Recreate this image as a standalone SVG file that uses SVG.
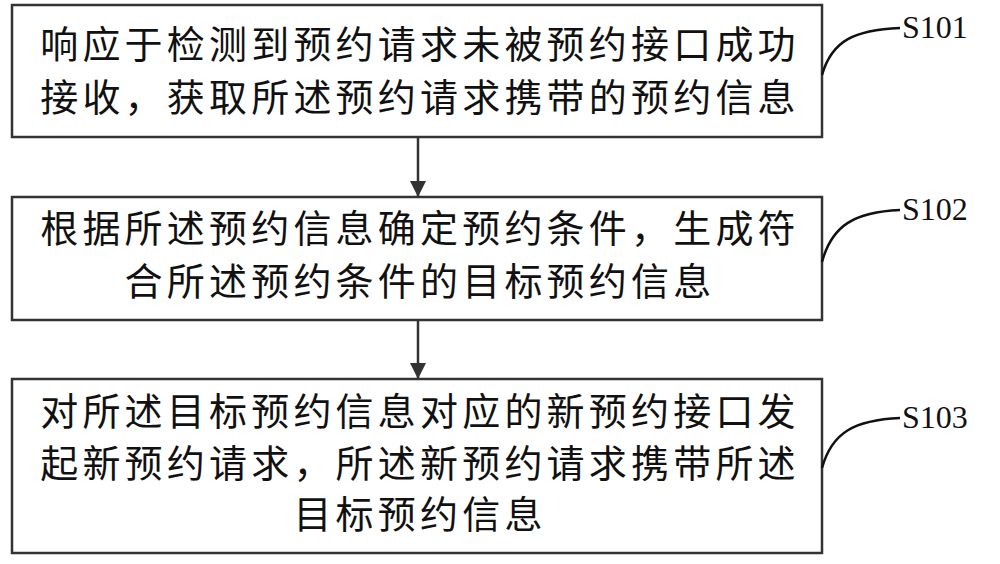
<svg xmlns="http://www.w3.org/2000/svg" width="1000" height="564" viewBox="0 0 1000 564">
<style>
.box{fill:#fff;stroke:#333;stroke-width:2.5}
.t{font-family:"Noto Sans CJK SC",sans-serif;font-size:38px;letter-spacing:4.2px;fill:#111;text-anchor:middle}
.s{font-family:"Liberation Serif",serif;font-size:32px;fill:#111}
.c{fill:none;stroke:#111;stroke-width:2.5}
.a{stroke:#333;stroke-width:2.5}
</style>
<defs><marker id="ah" markerWidth="16" markerHeight="20" refX="16" refY="8" orient="auto" markerUnits="userSpaceOnUse" viewBox="0 0 16 16"><path d="M0,0L16,8L0,16z" fill="#333"/></marker></defs>
<rect width="1000" height="564" fill="#fff"/>
<g id="n1"><rect class="box" x="12" y="5" width="810" height="132"/>
<text class="t" x="420" y="58">响应于检测到预约请求未被预约接口成功</text>
<text class="t" x="420" y="111">接收，获取所述预约请求携带的预约信息</text>
<text class="s" x="902" y="38">S101</text><path class="c" d="M822,75 C832,40 855,30 900,28"/></g>
<g id="n2"><rect class="box" x="12" y="197" width="810" height="123"/>
<text class="t" x="420" y="242">根据所述预约信息确定预约条件，生成符</text>
<text class="t" x="420" y="295">合所述预约条件的目标预约信息</text>
<text class="s" x="902" y="220">S102</text><path class="c" d="M822,262 C832,225 855,212 900,210"/></g>
<g id="n3"><rect class="box" x="12" y="379" width="810" height="174"/>
<text class="t" x="420" y="425">对所述目标预约信息对应的新预约接口发</text>
<text class="t" x="420" y="477">起新预约请求，所述新预约请求携带所述</text>
<text class="t" x="420" y="528">目标预约信息</text>
<text class="s" x="902" y="428">S103</text><path class="c" d="M822,468 C832,432 855,420 900,418"/></g>
<g id="connectors">
<line class="a" x1="418" y1="137" x2="418" y2="197" marker-end="url(#ah)"/>
<line class="a" x1="418" y1="320" x2="418" y2="379" marker-end="url(#ah)"/>
</g>
</svg>
